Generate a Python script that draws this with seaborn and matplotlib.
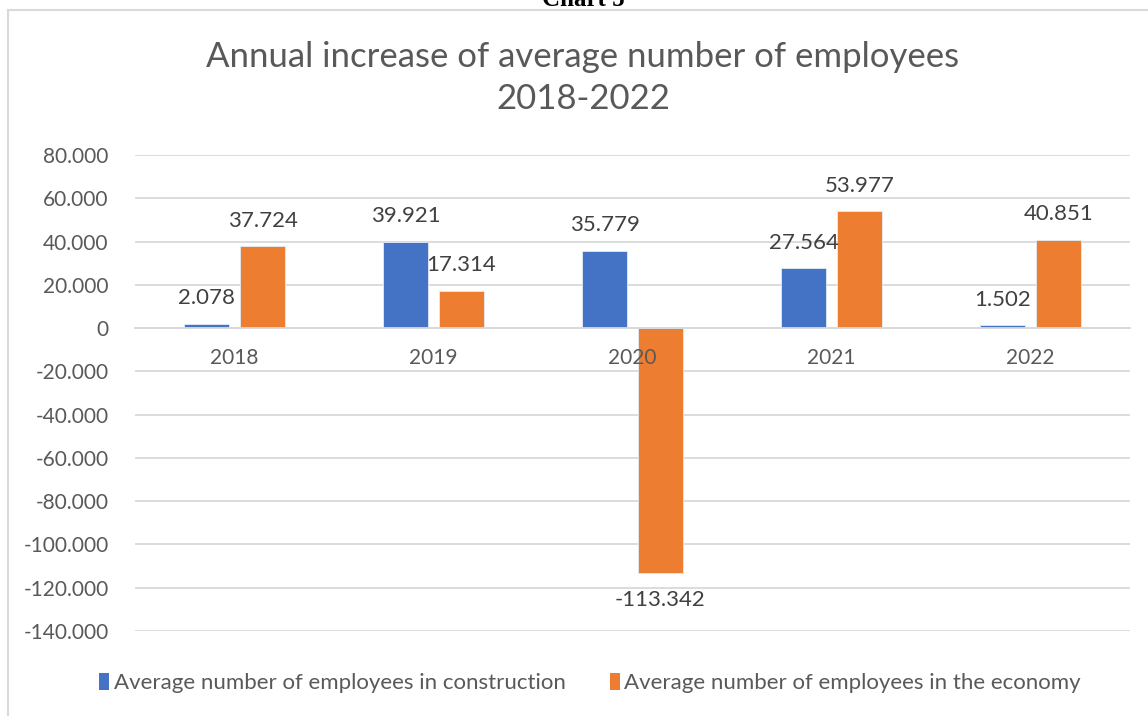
import matplotlib
matplotlib.use("Agg")
import matplotlib.pyplot as plt
import seaborn as sns
import pandas as pd
from matplotlib.patches import Rectangle, Patch
from matplotlib.ticker import FuncFormatter

years = ["2018", "2019", "2020", "2021", "2022"]
construction = [2078, 39921, 35779, 27564, 1502]
economy = [37724, 17314, -113342, 53977, 40851]
series_names = ["Average number of employees in construction",
                "Average number of employees in the economy"]
title = "Annual increase of average number of employees\n2018-2022"
colors = ["#4472C4", "#ED7D31"]
TXT = "#595959"
FONT = "Lato"

df = pd.DataFrame({
    "year": years * 2,
    "value": construction + economy,
    "series": [series_names[0]] * len(years) + [series_names[1]] * len(years),
})

sns.set_style("white")
plt.rcParams["font.family"] = [FONT, "DejaVu Sans"]

fig = plt.figure(figsize=(11.48, 7.16), dpi=100)
ax = fig.add_axes([135/1148, 1-631/716, (1130-135)/1148, (631-155)/716])

sns.barplot(data=df, x="year", y="value", hue="series", palette=colors,
            saturation=1, width=0.562, gap=0.196, ax=ax, edgecolor="#e4ebf5",
            linewidth=0.6, legend=False)

def fmt(v):
    s = f"{abs(int(round(v))):,}".replace(",", ".")
    return ("-" if v < 0 else "") + s

ax.set_ylim(-140000, 80000)
ax.set_yticks(range(-140000, 80001, 20000))
ax.yaxis.set_major_formatter(FuncFormatter(lambda v, p: fmt(v)))
ax.grid(axis="y", color="#d9d9d9", linewidth=1.3)
ax.set_axisbelow(True)
for s in ["top", "right", "left"]:
    ax.spines[s].set_visible(False)
ax.spines["bottom"].set_position(("data", 0))
ax.spines["bottom"].set_color("#d9d9d9")
ax.spines["bottom"].set_linewidth(1.3)
ax.tick_params(axis="y", length=0, pad=19, labelsize=15, labelcolor=TXT)
ax.set_xlabel("")
ax.set_ylabel("")

# category labels drawn on top of the bars (as in the reference)
xticks = ax.get_xticks()
xlabels = [t.get_text() for t in ax.get_xticklabels()]
ax.tick_params(axis="x", length=0, labelbottom=False)
for xt, lab in zip(xticks, xlabels):
    ax.annotate(lab, (xt, 0), xytext=(0, -14), textcoords="offset points",
                ha="center", va="top", fontsize=15, color=TXT, zorder=10)

for cont in ax.containers:
    for bar in cont:
        h = bar.get_height()
        xc = bar.get_x() + bar.get_width() / 2
        off = 11 if h >= 0 else -12
        ax.annotate(fmt(h), (xc, h), xytext=(0, off), textcoords="offset points",
                    ha="center", va="bottom" if h >= 0 else "top",
                    fontsize=16, color="#404040", zorder=10)

fig.text(583/1148, 1-78/716, title, ha="center", va="center", fontsize=25,
         color=TXT, linespacing=1.35)

handles = [Patch(facecolor=c, edgecolor="none") for c in colors]
fig.legend(handles, series_names, loc="center", bbox_to_anchor=(590/1148, 1-683/716),
           ncol=2, frameon=False, fontsize=16, labelcolor=TXT,
           handlelength=0.45, handleheight=0.85, handletextpad=0.2, columnspacing=2.0)

# chart frame
fig.add_artist(Rectangle((8/1148, -0.05), 1.2, 1-10/716+0.05, transform=fig.transFigure,
                         fill=False, edgecolor="#d9d9d9", linewidth=1.5))
fig.text(583/1148, 1.0, "Chart 5", ha="center", va="center", fontsize=18,
         fontweight="bold", family=["Liberation Serif", "DejaVu Serif"], color="black")

fig.savefig("out.png", dpi=100)
